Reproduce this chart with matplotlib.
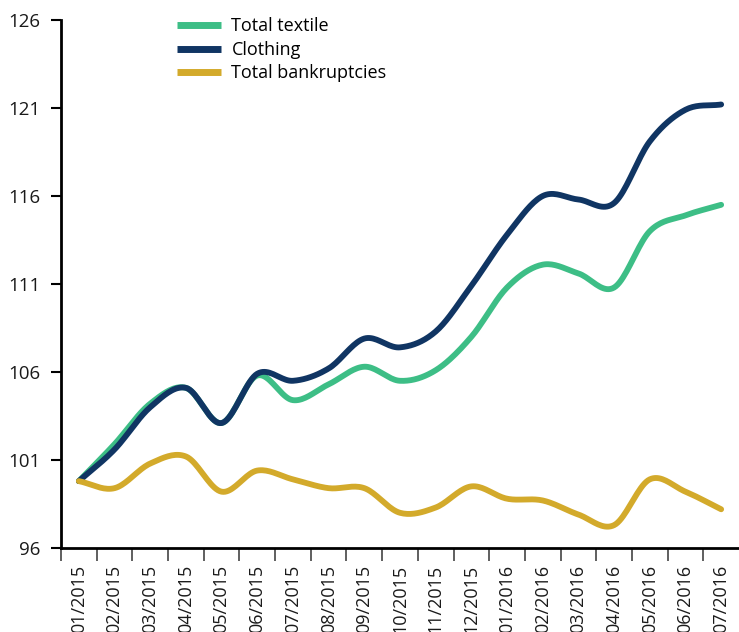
import numpy as np
import matplotlib
matplotlib.use('Agg')
import matplotlib.pyplot as plt

MONTHS = ['01/2015', '02/2015', '03/2015', '04/2015', '05/2015', '06/2015',
          '07/2015', '08/2015', '09/2015', '10/2015', '11/2015', '12/2015',
          '01/2016', '02/2016', '03/2016', '04/2016', '05/2016', '06/2016',
          '07/2016']

textile = [99.8, 101.9, 104.2, 105.1, 103.1, 105.8, 104.4, 105.3, 106.3, 105.5,
           106.1, 108.0, 110.8, 112.1, 111.6, 110.8, 114.0, 114.9, 115.5]
clothing = [99.8, 101.6, 104.0, 105.1, 103.1, 105.9, 105.5, 106.2, 107.9, 107.4,
            108.3, 110.9, 113.8, 116.0, 115.8, 115.6, 119.1, 120.9, 121.2]
bankruptcies = [99.8, 99.4, 100.8, 101.2, 99.2, 100.4, 99.9, 99.4, 99.4, 98.0,
                98.3, 99.5, 98.8, 98.7, 97.9, 97.3, 99.9, 99.2, 98.2]

YTICKS = [96, 101, 106, 111, 116, 121, 126]

GREEN = '#3dbe86'
NAVY = '#103563'
GOLD = '#d3aa2b'


def smooth(y, n=20):
    # catmull-rom through the monthly points
    y = np.asarray(y, dtype=float)
    x = np.arange(len(y))
    m = np.gradient(y)
    xs, ys = [], []
    for i in range(len(y) - 1):
        t = np.linspace(0, 1, n, endpoint=False)
        h00 = 2 * t**3 - 3 * t**2 + 1
        h10 = t**3 - 2 * t**2 + t
        h01 = -2 * t**3 + 3 * t**2
        h11 = t**3 - t**2
        xs.append(x[i] + t)
        ys.append(h00 * y[i] + h10 * m[i] + h01 * y[i + 1] + h11 * m[i + 1])
    xs.append([x[-1]])
    ys.append([y[-1]])
    return np.concatenate(xs), np.concatenate(ys)


plt.rcParams['font.family'] = ['Open Sans', 'DejaVu Sans']

fig = plt.figure(figsize=(7.39, 6.32), dpi=100)
ax = fig.add_axes([61 / 739, 1 - 548 / 632, 1 - 61 / 739, (548 - 20) / 632])

for vals, col, lab in [(textile, GREEN, 'Total textile'),
                       (clothing, NAVY, 'Clothing'),
                       (bankruptcies, GOLD, 'Total bankruptcies')]:
    xs, ys = smooth(vals)
    ax.plot(xs, ys, color=col, lw=4.2, solid_capstyle='round', label=lab)

ax.set_xlim(-0.5, len(MONTHS) - 0.5)
ax.set_ylim(96, 126)
ax.set_yticks(YTICKS)
ax.set_xticks(np.arange(len(MONTHS)))
ax.set_xticklabels(MONTHS, rotation=90, fontsize=13, color='#1a1a1a')
ax.set_xticks(np.arange(len(MONTHS)) - 0.5, minor=True)
ax.tick_params(axis='x', which='major', length=0, pad=12)
ax.tick_params(axis='x', which='minor', length=9, width=1.2, color='#444444')
ax.tick_params(axis='y', length=7, width=1.5, pad=8, labelsize=13.5,
               labelcolor='#1a1a1a')

for s in ['top', 'right']:
    ax.spines[s].set_visible(False)
ax.spines['left'].set_linewidth(2)
ax.spines['bottom'].set_linewidth(2)

leg = ax.legend(loc='upper left', bbox_to_anchor=(170 / 739, 1 - 10 / 632),
                bbox_transform=fig.transFigure, frameon=False, fontsize=13,
                handlelength=2.4, handleheight=0.6, labelspacing=0.3,
                handletextpad=0.6, borderaxespad=0)
for line in leg.get_lines():
    line.set_linewidth(5)
    line.set_solid_capstyle('butt')

fig.savefig('out.png', dpi=100)
